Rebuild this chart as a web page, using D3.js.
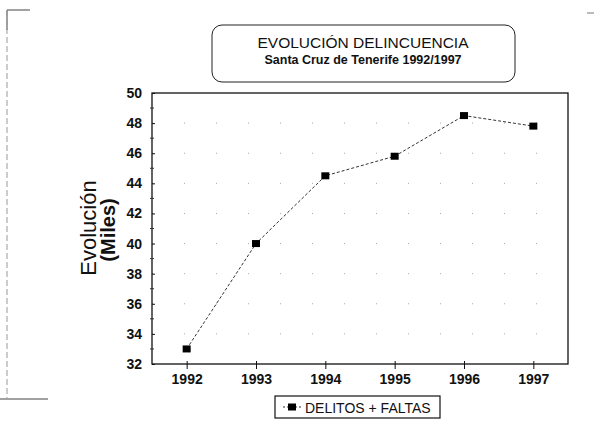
<!DOCTYPE html>
<html lang="es">
<head>
<meta charset="UTF-8">
<title>Evolución delincuencia</title>
<script src="https://cdn.jsdelivr.net/npm/d3@7"></script>
<style>
    body { margin: 0; background: #fff; }
    text { font-family: "Liberation Sans", Arial, sans-serif; fill: #111; }
</style>
</head>
<body>
<svg width="606" height="430"></svg>
<script>
    // data
    var years = ["1992", "1993", "1994", "1995", "1996", "1997"];
    var values = [33.0, 40.0, 44.5, 45.8, 48.5, 47.8];
    var yTicks = [32, 34, 36, 38, 40, 42, 44, 46, 48, 50];

    var svg = d3.select("svg");

    // plot area
    var plotLeft = 152, plotRight = 568, plotTop = 93, plotBottom = 364;

    var x = d3.scalePoint().domain(years).range([plotLeft, plotRight]).padding(0.5);
    var y = d3.scaleLinear().domain([32, 50]).range([plotBottom, plotTop]);

    // scanned page frame bits
    svg.append("path")
        .attr("d", "M7,30 V10 H30")
        .attr("fill", "none").attr("stroke", "#444").attr("stroke-width", 1);
    svg.append("line")
        .attr("x1", 7).attr("x2", 7).attr("y1", 10).attr("y2", 398)
        .attr("stroke", "#999").attr("stroke-width", 1).attr("stroke-dasharray", "6,3");
    svg.append("line")
        .attr("x1", 0).attr("x2", 48).attr("y1", 399).attr("y2", 399)
        .attr("stroke", "#444").attr("stroke-width", 1);
    svg.append("line")
        .attr("x1", 587).attr("x2", 594).attr("y1", 13).attr("y2", 13)
        .attr("stroke", "#777").attr("stroke-width", 1);

    // title box
    svg.append("rect")
        .attr("x", 212).attr("y", 25).attr("width", 303).attr("height", 57)
        .attr("rx", 10).attr("ry", 10)
        .attr("fill", "none").attr("stroke", "#222").attr("stroke-width", 1);
    svg.append("text")
        .attr("x", 363).attr("y", 48)
        .attr("text-anchor", "middle")
        .style("font-size", "15.5px")
        .text("EVOLUCIÓN DELINCUENCIA");
    svg.append("text")
        .attr("x", 363).attr("y", 64)
        .attr("text-anchor", "middle")
        .style("font-size", "12.5px").style("font-weight", "bold")
        .text("Santa Cruz de Tenerife 1992/1997");

    // sparse dotted gridlines (as in the scan)
    svg.append("g")
        .selectAll("line")
        .data(yTicks.slice(1, -1))
        .enter().append("line")
        .attr("x1", plotLeft).attr("x2", plotRight)
        .attr("y1", function(d) { return y(d); })
        .attr("y2", function(d) { return y(d); })
        .attr("stroke", "#aaa").attr("stroke-width", 1)
        .attr("stroke-dasharray", "1,31");

    // plot frame
    svg.append("rect")
        .attr("x", plotLeft).attr("y", plotTop)
        .attr("width", plotRight - plotLeft).attr("height", plotBottom - plotTop)
        .attr("fill", "none").attr("stroke", "#111").attr("stroke-width", 1.3);

    // y axis
    var yAxis = svg.append("g")
        .attr("transform", "translate(" + plotLeft + ",0)")
        .call(d3.axisLeft(y).tickValues(yTicks).tickSize(5).tickPadding(4));
    yAxis.select(".domain").remove();
    yAxis.selectAll(".tick line").attr("x2", 3).attr("stroke", "#111");
    yAxis.selectAll("text")
        .style("font-size", "14px").style("font-weight", "bold")
        .attr("x", -10);

    // minor y ticks
    svg.append("g")
        .selectAll("line")
        .data(d3.range(33, 50, 2))
        .enter().append("line")
        .attr("x1", plotLeft - 2).attr("x2", plotLeft + 2)
        .attr("y1", function(d) { return y(d); })
        .attr("y2", function(d) { return y(d); })
        .attr("stroke", "#333");

    // x axis
    var xAxis = svg.append("g")
        .attr("transform", "translate(0," + plotBottom + ")")
        .call(d3.axisBottom(x).tickSize(5).tickPadding(5));
    xAxis.select(".domain").remove();
    xAxis.selectAll(".tick line").attr("y1", -3).attr("stroke", "#111");
    xAxis.selectAll("text")
        .style("font-size", "14px").style("font-weight", "bold");

    // y axis title
    svg.append("text")
        .attr("transform", "translate(96,228) rotate(-90)")
        .attr("text-anchor", "middle")
        .style("font-size", "22px")
        .text("Evolución");
    svg.append("text")
        .attr("transform", "translate(115,230) rotate(-90)")
        .attr("text-anchor", "middle")
        .style("font-size", "20px").style("font-weight", "bold")
        .text("(Miles)");

    // series line
    var line = d3.line()
        .x(function(d, i) { return x(years[i]); })
        .y(function(d) { return y(d); });

    svg.append("path")
        .datum(values)
        .attr("d", line)
        .attr("fill", "none")
        .attr("stroke", "#333")
        .attr("stroke-width", 1)
        .attr("stroke-dasharray", "3,2");

    svg.append("g")
        .selectAll("rect")
        .data(values)
        .enter().append("rect")
        .attr("x", function(d, i) { return x(years[i]) - 4; })
        .attr("y", function(d) { return y(d) - 3.5; })
        .attr("width", 8).attr("height", 7)
        .attr("fill", "#000");

    // legend
    var legend = svg.append("g");
    legend.append("rect")
        .attr("x", 275).attr("y", 396).attr("width", 165).attr("height", 22)
        .attr("fill", "none").attr("stroke", "#111").attr("stroke-width", 1.2);
    legend.append("line")
        .attr("x1", 283).attr("x2", 302).attr("y1", 407).attr("y2", 407)
        .attr("stroke", "#333").attr("stroke-dasharray", "2,2");
    legend.append("rect")
        .attr("x", 288).attr("y", 403.5).attr("width", 8).attr("height", 7)
        .attr("fill", "#000");
    legend.append("text")
        .attr("x", 305).attr("y", 413)
        .style("font-size", "14px")
        .text("DELITOS + FALTAS");
</script>
</body>
</html>
